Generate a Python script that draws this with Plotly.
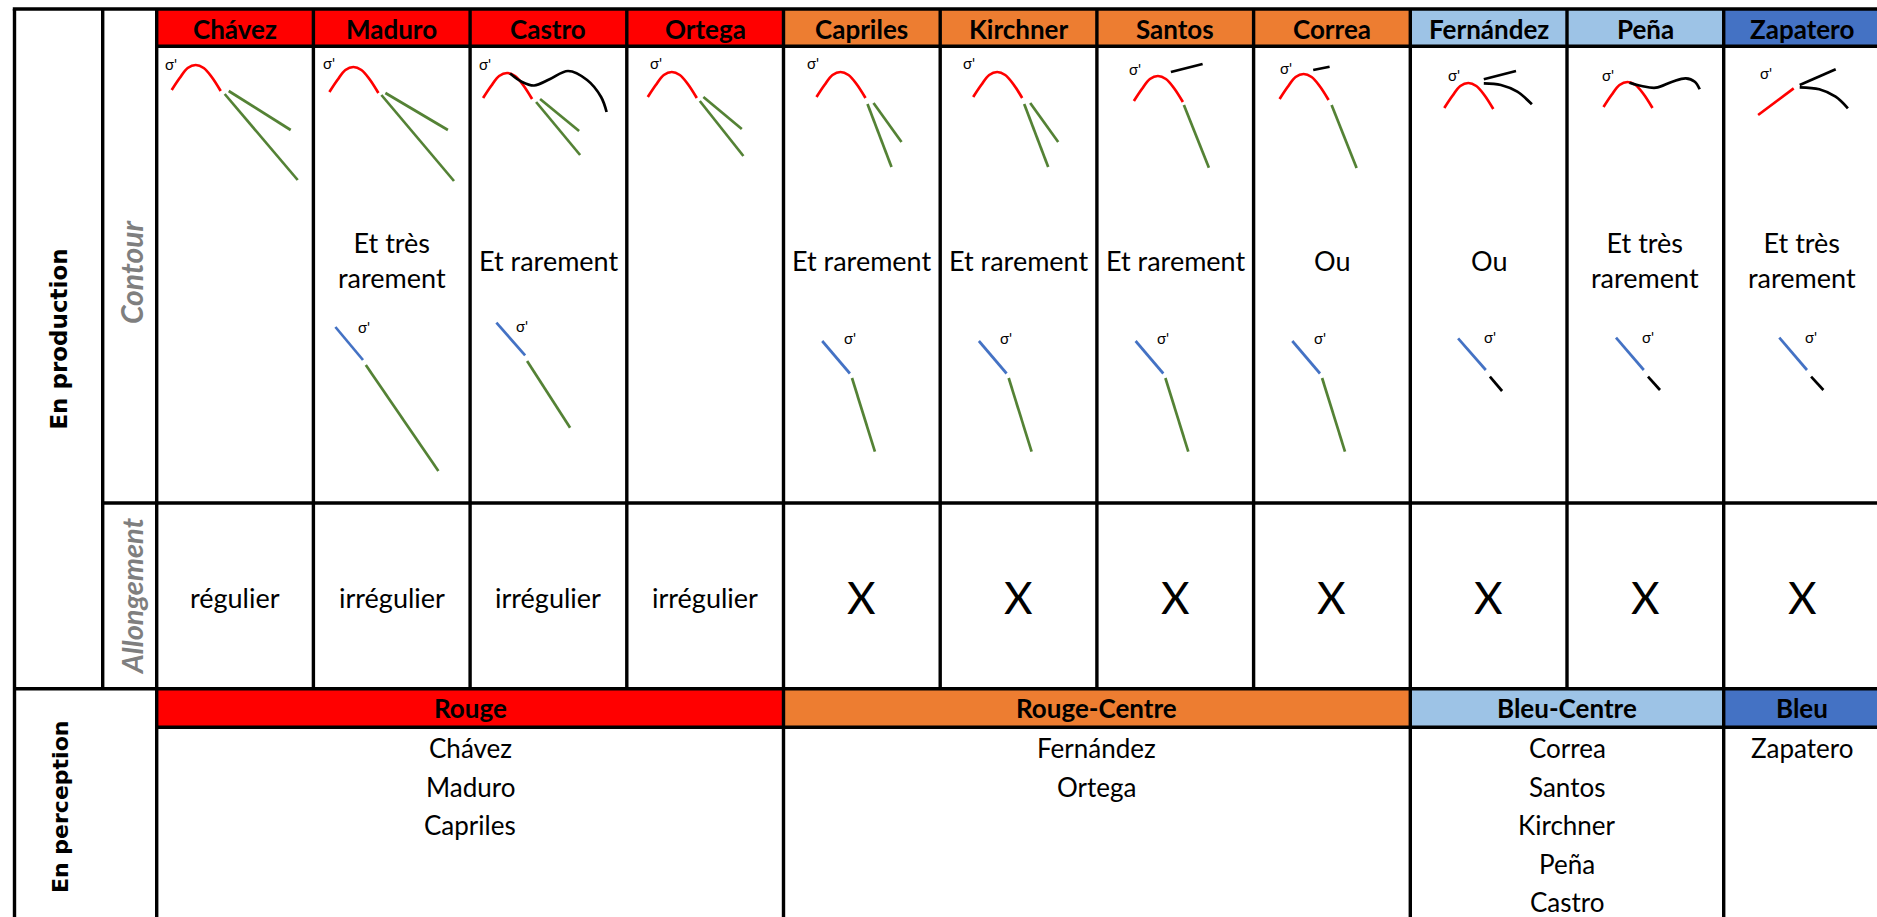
import plotly.graph_objects as go

W, H = 1877, 917

# ---------------- data ----------------
politicians = ["Chávez", "Maduro", "Castro", "Ortega", "Capriles", "Kirchner",
               "Santos", "Correa", "Fernández", "Peña", "Zapatero"]
header_colors = ["#FF0000"] * 4 + ["#ED7D31"] * 4 + ["#9DC3E6"] * 2 + ["#4472C4"]
contour_text = ["", "Et très<br>rarement", "Et rarement", "", "Et rarement", "Et rarement",
                "Et rarement", "Ou", "Ou", "Et très<br>rarement", "Et très<br>rarement"]
allongement = ["régulier", "irrégulier", "irrégulier", "irrégulier",
               "X", "X", "X", "X", "X", "X", "X"]

groups = ["Rouge", "Rouge-Centre", "Bleu-Centre", "Bleu"]
group_first = [0, 4, 8, 10]
group_last = [3, 7, 9, 10]
group_colors = ["#FF0000", "#ED7D31", "#9DC3E6", "#4472C4"]
group_members = [["Chávez", "Maduro", "Capriles"],
                 ["Fernández", "Ortega"],
                 ["Correa", "Santos", "Kirchner", "Peña", "Castro"],
                 ["Zapatero"]]

# glyph sketches (cell-relative pixel coordinates: dx from column left, dy from header bottom)
arch_peak = {0: (39, 18), 1: (40, 20), 2: (37, 26), 3: (45, 25), 4: (57, 25), 5: (57, 25),
             6: (61, 29), 7: (50, 27), 8: (58, 36), 9: (60.5, 35)}
arch_shape = [(-24, 25), (-16, 13), (-8, 3), (0, 0), (8, 3), (16, 12), (25, 26)]
red_straight = {10: [(34.4, 68), (70, 41.3)]}
green_upper = {
    0: [[(72, 44), (134, 83)], [(68, 47), (141, 133)]],
    1: [[(72, 46), (134.5, 83)], [(68, 48), (140.6, 134)]],
    2: [[(70, 52), (109, 84)], [(66, 55), (110, 108)]],
    3: [[(76.6, 50), (115, 82)], [(73, 54), (116.6, 109)]],
    4: [[(90, 56), (118, 95)], [(84, 57), (108, 120)]],
    5: [[(90, 56), (118, 95)], [(84, 57), (108, 120)]],
    6: [[(87, 58), (112, 120.7)]],
    7: [[(78, 58), (103, 121)]],
}
black_upper = {
    2: [[(40, 26.5), (52, 35), (64, 38.5), (80, 32), (98, 24), (117, 33), (131, 50), (136.5, 65)]],
    6: [[(74, 25), (105.7, 17)]],
    7: [[(59.6, 23), (76, 19.7)]],
    8: [[(73.5, 32.3), (105.7, 24)], [(73.5, 36.3), (90.6, 38), (107, 44.7), (121.6, 57.3)]],
    9: [[(62.5, 35.7), (74.7, 39), (88.9, 40.7), (105.3, 34.7), (118.8, 31.3), (127.8, 34.7), (132.7, 42.3)]],
    10: [[(76, 38), (112, 22.3)], [(76, 40.3), (95.6, 42.3), (111.9, 49.7), (124.2, 61.3)]],
}
sigma_upper = {0: (14, 17), 1: (16, 16), 2: (14.5, 17), 3: (29, 16), 4: (29, 16), 5: (28.5, 16),
               6: (38, 22), 7: (32, 21), 8: (43.7, 28), 9: (41, 28), 10: (42.5, 26)}
blue_lower = {1: [(22, 280), (49.6, 313)], 2: [(26.3, 275.7), (55, 308.3)],
              4: [(38.7, 294), (66.4, 326.5)], 5: [(38.7, 294), (66.4, 326.5)],
              6: [(38.7, 294), (66.4, 326.5)], 7: [(38.7, 294), (66.4, 326.5)],
              8: [(47.8, 291.3), (75.5, 323)], 9: [(49, 290.7), (76.8, 323)],
              10: [(55.6, 290.7), (83.3, 323)]}
green_lower = {1: [(52.4, 318), (125, 424)], 2: [(57, 314), (100, 380.7)],
               4: [(68.5, 331), (91.4, 404.7)], 5: [(68.5, 331), (91.4, 404.7)],
               6: [(68.5, 331), (91.4, 404.7)], 7: [(68.5, 331), (91.4, 404.7)]}
black_lower = {8: [(79.6, 329.7), (91.8, 344)], 9: [(81, 329.7), (93, 343)],
               10: [(87.4, 329.7), (99.7, 343)]}
sigma_lower = {1: (51, 280), 2: (52, 279), 4: (66, 291), 5: (66, 291), 6: (66, 291),
               7: (66, 291), 8: (79.6, 290), 9: (81, 290), 10: (87.4, 290)}

# ---------------- layout geometry ----------------
X_LEFT, X_LABEL, X_DATA, COL_W = 14.5, 102.7, 156.7, 156.7
Y_TOP, Y_HEAD, Y_ALLONG, Y_PERC, Y_PERC_HEAD = 9, 46.3, 503, 688.7, 727.3
ORIGIN_Y = 47
LW = 3.4
RED, GREEN, BLUE, BLACK = "#FF0000", "#548235", "#4472C4", "#000000"
FONT = "Lato, 'Open Sans', sans-serif"

def col_left(i):
    return X_DATA + i * COL_W

def col_center(i):
    return X_DATA + (i + 0.5) * COL_W

fig = go.Figure()
shapes = []
ann = []

# header fills
for i, c in enumerate(header_colors):
    shapes.append(dict(type="rect", xref="x", yref="y", x0=col_left(i), x1=col_left(i) + COL_W,
                       y0=Y_TOP, y1=Y_HEAD, fillcolor=c, line=dict(width=0), layer="below"))
    ann.append(dict(x=col_center(i), y=29, text="<b>" + politicians[i] + "</b>",
                    font=dict(family=FONT, size=26, color="black")))
for g, name in enumerate(groups):
    x0 = col_left(group_first[g]); x1 = col_left(group_last[g] + 1)
    shapes.append(dict(type="rect", xref="x", yref="y", x0=x0, x1=x1, y0=Y_PERC, y1=Y_PERC_HEAD,
                       fillcolor=group_colors[g], line=dict(width=0), layer="below"))
    xc = (x0 + min(x1, W + 4)) / 2
    ann.append(dict(x=xc, y=708, text="<b>" + name + "</b>",
                    font=dict(family=FONT, size=26, color="black")))
    for k, m in enumerate(group_members[g]):
        ann.append(dict(x=xc, y=748 + k * 38.6, text=m, font=dict(family=FONT, size=26, color="black")))

# borders
def hline(y, x0, x1):
    shapes.append(dict(type="line", xref="x", yref="y", x0=x0, x1=x1, y0=y, y1=y,
                       line=dict(color="black", width=LW), layer="above"))

def vline(x, y0, y1):
    shapes.append(dict(type="line", xref="x", yref="y", x0=x, x1=x, y0=y0, y1=y1,
                       line=dict(color="black", width=LW), layer="above"))

hline(Y_TOP, X_LEFT - LW / 2, W)
hline(Y_HEAD, X_DATA, W)
hline(Y_ALLONG, X_LABEL, W)
hline(Y_PERC, X_LEFT, W)
hline(Y_PERC_HEAD, X_DATA, W)
vline(X_LEFT, Y_TOP, H)
vline(X_LABEL, Y_TOP, Y_PERC)
vline(X_DATA, Y_TOP, H)
group_starts = [col_left(s) for s in group_first[1:]]
for i in range(1, len(politicians)):
    x = col_left(i)
    vline(x, Y_TOP, H if any(abs(x - gs) < 0.1 for gs in group_starts) else Y_PERC)

# side labels
ann.append(dict(x=58.6, y=339, text="<b>En production</b>", textangle=-90,
                font=dict(family="DejaVu Sans", size=23, color="black")))
ann.append(dict(x=60, y=807, text="<b>En perception</b>", textangle=-90,
                font=dict(family="DejaVu Sans", size=22, color="black")))
ann.append(dict(x=131, y=272, text="<b><i>Contour</i></b>", textangle=-90,
                font=dict(family=FONT, size=30, color="#7F7F7F")))
ann.append(dict(x=131, y=596, text="<b><i>Allongement</i></b>", textangle=-90,
                font=dict(family=FONT, size=29, color="#7F7F7F")))

# cell texts
for i in range(len(politicians)):
    if contour_text[i]:
        ann.append(dict(x=col_center(i), y=260, text=contour_text[i],
                        font=dict(family=FONT, size=27, color="black")))
    big = allongement[i] == "X"
    ann.append(dict(x=col_center(i), y=597, text=allongement[i],
                    font=dict(family=FONT, size=44 if big else 27, color="black")))

# glyph traces
def add_path(i, pts, color, spline=False):
    xs = [col_left(i) + p[0] for p in pts]
    ys = [ORIGIN_Y + p[1] for p in pts]
    fig.add_trace(go.Scatter(x=xs, y=ys, mode="lines",
                             line=dict(color=color, width=2.7, shape="spline" if spline else "linear",
                                       smoothing=1.0),
                             hoverinfo="skip", showlegend=False))

for i, (px, py) in arch_peak.items():
    add_path(i, [(px + a, py + b) for a, b in arch_shape], RED, spline=True)
for i, pts in red_straight.items():
    add_path(i, pts, RED)
for i, segs in green_upper.items():
    for s in segs:
        add_path(i, s, GREEN)
for i, segs in black_upper.items():
    for s in segs:
        add_path(i, s, BLACK, spline=len(s) > 2)
for i, s in blue_lower.items():
    add_path(i, s, BLUE)
for i, s in green_lower.items():
    add_path(i, s, GREEN)
for i, s in black_lower.items():
    add_path(i, s, BLACK)
for d in (sigma_upper, sigma_lower):
    for i, (sx, sy) in d.items():
        ann.append(dict(x=col_left(i) + sx, y=ORIGIN_Y + sy, text="σ'",
                        font=dict(family=FONT, size=15, color="black")))

for a in ann:
    a.update(xref="x", yref="y", showarrow=False, xanchor="center", yanchor="middle")

fig.update_layout(
    width=W, height=H, margin=dict(l=0, r=0, t=0, b=0),
    paper_bgcolor="white", plot_bgcolor="white",
    xaxis=dict(range=[0, W], visible=False, fixedrange=True),
    yaxis=dict(range=[H, 0], visible=False, fixedrange=True),
    shapes=shapes, annotations=ann, showlegend=False,
)

fig.write_html("out.html", config={"displayModeBar": False},
               post_script="document.body.style.margin='0';document.body.style.overflow='hidden';")
